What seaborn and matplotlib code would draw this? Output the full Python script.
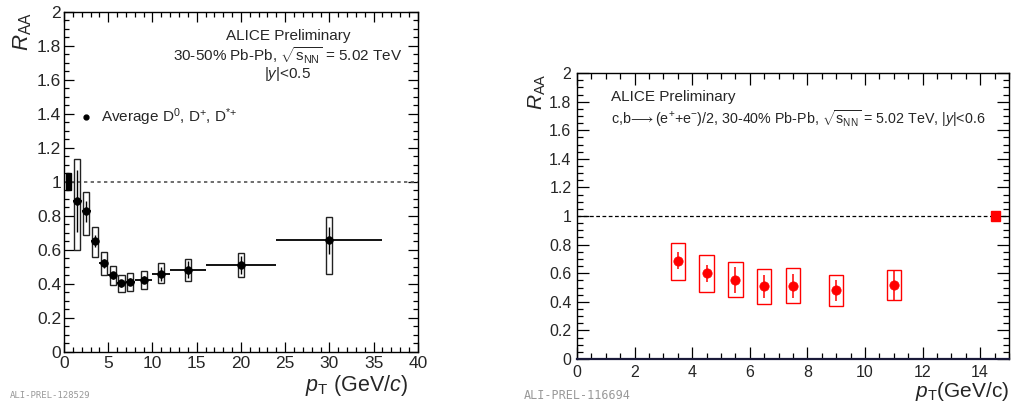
import numpy as np
import pandas as pd
import matplotlib
matplotlib.use("Agg")
import matplotlib.pyplot as plt
import seaborn as sns
from matplotlib.patches import Rectangle
from matplotlib.lines import Line2D
from matplotlib.ticker import MultipleLocator

# ---- D mesons, 30-50% Pb-Pb ----
d_pt = [1.5, 2.5, 3.5, 4.5, 5.5, 6.5, 7.5, 9.0, 11.0, 14.0, 20.0, 30.0]
d_halfbin = [0.5, 0.5, 0.5, 0.5, 0.5, 0.5, 0.5, 1.0, 1.0, 2.0, 4.0, 6.0]
d_raa = [0.888, 0.826, 0.654, 0.522, 0.450, 0.403, 0.413, 0.425, 0.460, 0.483, 0.511, 0.656]
d_stat = [0.18, 0.06, 0.035, 0.027, 0.02, 0.02, 0.02, 0.02, 0.04, 0.05, 0.055, 0.08]
d_sys_up = [0.245, 0.117, 0.080, 0.063, 0.053, 0.047, 0.051, 0.049, 0.062, 0.063, 0.070, 0.140]
d_sys_dn = [0.287, 0.139, 0.096, 0.068, 0.057, 0.051, 0.053, 0.055, 0.057, 0.064, 0.069, 0.196]
d_norm = 0.05

# ---- heavy-flavour electrons, 30-40% Pb-Pb ----
e_pt = [3.5, 4.5, 5.5, 6.5, 7.5, 9.0, 11.0]
e_raa = [0.688, 0.599, 0.555, 0.508, 0.510, 0.480, 0.515]
e_stat = [0.06, 0.06, 0.09, 0.08, 0.084, 0.073, 0.106]
e_sys_up = [0.121, 0.128, 0.123, 0.119, 0.126, 0.107, 0.107]
e_sys_dn = [0.138, 0.130, 0.121, 0.121, 0.118, 0.109, 0.105]
e_norm = 0.033

d_df = pd.DataFrame({"pt": d_pt, "raa": d_raa})
e_df = pd.DataFrame({"pt": e_pt, "raa": e_raa})

sns.set_style("ticks")
plt.rcParams["font.family"] = ["Liberation Sans", "DejaVu Sans"]
plt.rcParams["mathtext.fontset"] = "custom"
plt.rcParams["mathtext.rm"] = "Liberation Sans"
plt.rcParams["mathtext.it"] = "Liberation Sans:italic"
plt.rcParams["mathtext.bf"] = "Liberation Sans:bold"
plt.rcParams["axes.linewidth"] = 1.0

fig = plt.figure(figsize=(10.11, 4.05), dpi=100)
ax1 = fig.add_axes([0.0633, 0.131, 0.350, 0.840])
ax2 = fig.add_axes([0.5707, 0.1136, 0.4273, 0.706])


def style_axis(ax, xmaj, xmin, maj_len, min_len, size, ypad, xpad):
    ax.xaxis.set_major_locator(MultipleLocator(xmaj))
    ax.xaxis.set_minor_locator(MultipleLocator(xmin))
    ax.yaxis.set_major_locator(MultipleLocator(0.2))
    ax.yaxis.set_minor_locator(MultipleLocator(0.05))
    ax.tick_params(which="both", direction="in", top=True, right=True,
                   color="black", width=0.9)
    ax.tick_params(which="major", length=maj_len, labelsize=size)
    ax.tick_params(which="minor", length=min_len)
    ax.tick_params(axis="y", which="major", pad=ypad)
    ax.tick_params(axis="x", which="major", pad=xpad)
    for s in ax.spines.values():
        s.set_visible(True)
        s.set_color("black")
        s.set_linewidth(1.0)
    ax.yaxis.set_major_formatter(plt.FuncFormatter(lambda v, p: f"{v:g}"))
    ax.xaxis.set_major_formatter(plt.FuncFormatter(lambda v, p: f"{v:g}"))


# ---------------- left panel ----------------
ax1.set_xlim(0, 40)
ax1.set_ylim(0, 2)
ax1.axhline(1.0, color="#555555", lw=1.2, ls=(0, (2, 2)), zorder=1)
ax1.add_patch(Rectangle((0.2, 1 - d_norm), 0.6, 2 * d_norm,
                        facecolor="black", edgecolor="black", zorder=3))
for x, y, up, dn in zip(d_pt, d_raa, d_sys_up, d_sys_dn):
    ax1.add_patch(Rectangle((x - 0.35, y - dn), 0.7, up + dn, fill=False,
                            edgecolor="#222222", lw=1.0, zorder=2))
ax1.errorbar(d_pt, d_raa, xerr=d_halfbin, fmt="none", ecolor="black",
             elinewidth=1.3, capsize=0, zorder=3)
ax1.errorbar(d_pt, d_raa, yerr=d_stat, fmt="none", ecolor="black",
             elinewidth=1.0, capsize=0, zorder=3)
sns.scatterplot(data=d_df, x="pt", y="raa", ax=ax1, color="black", s=30,
                marker="o", edgecolor="black", linewidth=0.5, zorder=4,
                legend=False)
style_axis(ax1, 5, 1, 7, 3.5, 12.5, 2, 3)
ax1.set_xlabel(r"$p_{\rm T}$ (GeV/$c$)", fontsize=15.5, loc="right")
ax1.xaxis.set_label_coords(0.972, -0.062)
ax1.set_ylabel(r"$R_{\rm AA}$", fontsize=16, loc="top")
ax1.yaxis.set_label_coords(-0.085, 1.0)

ax1.text(25.3, 1.86, "ALICE Preliminary", ha="center", va="center", fontsize=11)
ax1.text(25.3, 1.745, r"30-50% Pb-Pb, $\sqrt{\mathrm{s}_{\rm NN}}$ = 5.02 TeV",
         ha="center", va="center", fontsize=11)
ax1.text(25.3, 1.635, r"$|y|$<0.5", ha="center", va="center", fontsize=11)
handle = Line2D([], [], color="black", marker="o", ls="none", markersize=3.5)
ax1.legend([handle], [r"Average D$^{0}$, D$^{+}$, D$^{{*}{+}}$"], loc="center left",
           bbox_to_anchor=(0.0, 0.69), frameon=False, fontsize=11,
           handletextpad=0.2, handlelength=1.5, borderaxespad=0.3)

# ---------------- right panel ----------------
ax2.set_xlim(0, 15)
ax2.set_ylim(0, 2)
ax2.axhline(1.0, color="black", lw=0.9, ls=(0, (3, 2)), zorder=1)
ax2.add_patch(Rectangle((14.37, 1 - e_norm), 0.32, 2 * e_norm,
                        facecolor="red", edgecolor="red", zorder=3))
for x, y, up, dn in zip(e_pt, e_raa, e_sys_up, e_sys_dn):
    ax2.add_patch(Rectangle((x - 0.25, y - dn), 0.5, up + dn, fill=False,
                            edgecolor="red", lw=1.0, zorder=2))
ax2.errorbar(e_pt, e_raa, yerr=e_stat, fmt="none", ecolor="red",
             elinewidth=1.1, capsize=0, zorder=3)
sns.scatterplot(data=e_df, x="pt", y="raa", ax=ax2, color="red", s=45,
                marker="o", edgecolor="red", linewidth=0.5, zorder=4,
                legend=False)
style_axis(ax2, 2, 0.5, 8.5, 4.5, 11.5, 4, 4)
ax2.spines["bottom"].set_linewidth(1.6)
ax2.spines["bottom"].set_color("#1a1a3a")
ax2.set_xlabel(r"$p_{\rm T}$(GeV/c)", fontsize=15, loc="right")
ax2.xaxis.set_label_coords(1.0, -0.075)
ax2.set_ylabel(r"$R_{\rm AA}$", fontsize=15, loc="top")
ax2.yaxis.set_label_coords(-0.068, 1.0)

ax2.text(1.18, 1.835, "ALICE Preliminary", ha="left", va="center", fontsize=11)
ax2.text(1.18, 1.68,
         r"c,b$\!\longrightarrow\!\!$ (e$^{+}$+e$^{-}$)/2, 30-40% Pb-Pb, "
         r"$\sqrt{\mathrm{s}_{\rm NN}}$ = 5.02 TeV, $|y|$<0.6",
         ha="left", va="center", fontsize=10.3)

# preliminary figure identifiers
fig.text(0.01, 0.018, "ALI-PREL-128529", fontsize=6.5, color="#999999",
         family="DejaVu Sans Mono")
fig.text(0.518, 0.015, "ALI-PREL-116694", fontsize=8.5, color="#999999",
         family="DejaVu Sans Mono")

fig.savefig("out.png", dpi=100)
